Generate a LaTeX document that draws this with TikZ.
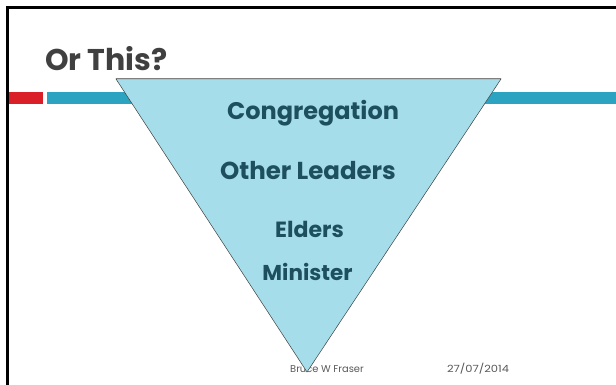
\documentclass[tikz,border=0pt]{standalone}
\usepackage{fontspec}
\setmainfont{Poppins}
\definecolor{titlegray}{HTML}{404040}
\definecolor{barred}{HTML}{DA1F28}
\definecolor{barblue}{HTML}{2CA3C1}
\definecolor{trifill}{HTML}{A6DDEA}
\definecolor{tritext}{HTML}{1D4F5E}
\definecolor{footgray}{HTML}{595959}
\tikzset{
  lvl/.style={text=tritext, inner sep=0pt, anchor=base},
  foot/.style={text=footgray, font=\fontsize{9.9}{11}\selectfont, inner sep=0pt, anchor=base},
}
\begin{document}
\begin{tikzpicture}[x=1pt,y=-1pt]
\useasboundingbox (0,0) rectangle (616,385);
\fill[white] (0,0) rectangle (616,385);
% frame
\draw[line width=2.6pt, black] (6,7.8) -- (616,7.8);
\draw[line width=2.6pt, black] (7.2,6.5) -- (7.2,385);
% title
\node[anchor=base west, text=titlegray, font=\fontsize{30}{34}\selectfont\bfseries, inner sep=0pt] (title) at (45,71) {Or This?};
% bars
\fill[barred] (8.5,92) rectangle (43,104);
\fill[barblue] (47,92) rectangle (616,104);
% footer
\node[foot] (author) at (327,372) {Bruce W Fraser};
\node[foot] (date) at (478,372) {\scalebox{1.16}[1]{27/07/2014}};
% triangle
\coordinate (tl) at (116,79);
\coordinate (tr) at (501,79);
\coordinate (ap) at (307,372);
\filldraw[fill=trifill, draw=titlegray, line width=0.5pt] (tl) -- (tr) -- (ap) -- cycle;
\draw[line width=1pt, gray] (tl) -- (tr);
% levels
\node[lvl, font=\fontsize{24}{28}\selectfont\bfseries] (cong) at (313,120) {Congregation};
\node[lvl, font=\fontsize{24.5}{28}\selectfont\bfseries] (other) at (308,179) {Other Leaders};
\node[lvl, font=\fontsize{22}{26}\selectfont\bfseries] (elders) at (309.5,237) {Elders};
\node[lvl, font=\fontsize{21.5}{26}\selectfont\bfseries] (minister) at (307.5,280) {Minister};
\end{tikzpicture}
\end{document}
